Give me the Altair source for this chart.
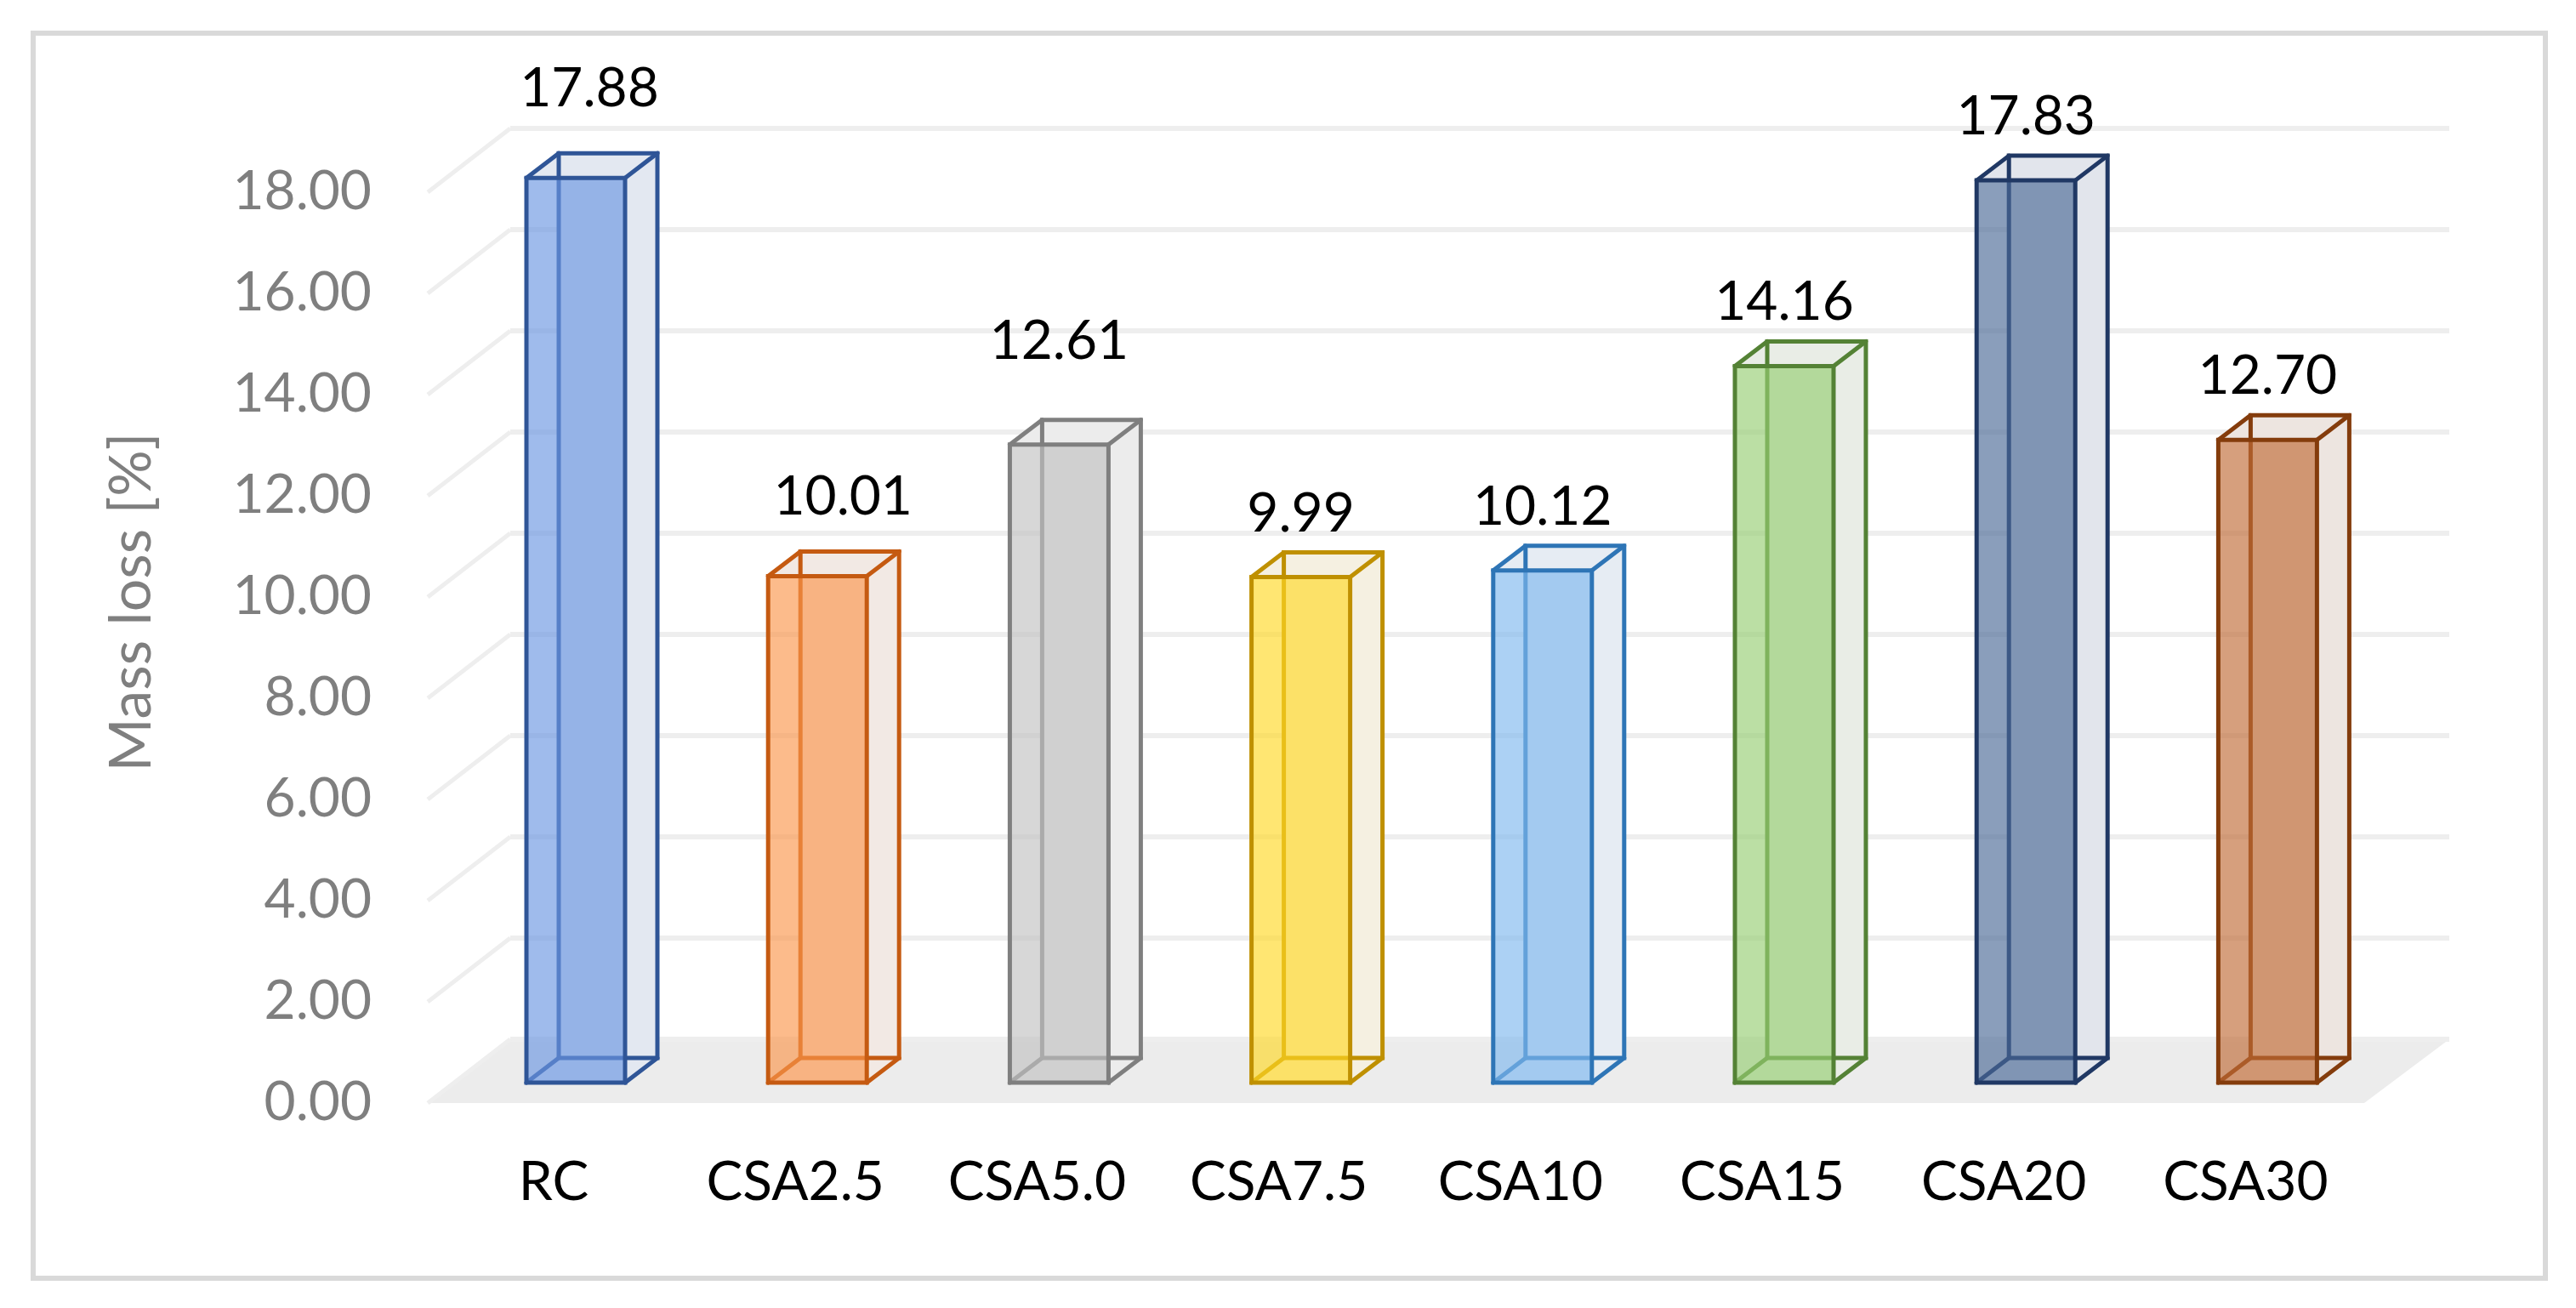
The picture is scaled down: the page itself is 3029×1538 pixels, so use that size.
import altair as alt
import pandas as pd

# ---------------- data ----------------
categories = ["RC", "CSA2.5", "CSA5.0", "CSA7.5", "CSA10", "CSA15", "CSA20", "CSA30"]
mass_loss = [17.88, 10.01, 12.61, 9.99, 10.12, 14.16, 17.83, 12.70]
y_ticks = [0, 2, 4, 6, 8, 10, 12, 14, 16, 18]
y_title = "Mass loss [%]"

# ---------------- styles ----------------
face_colors = ["#95b3e7", "#f8b482", "#d0d0d0", "#fee168", "#a3cbf0", "#b3d99b", "#8095b5", "#d09672"]
edge_colors = ["#2f5597", "#c55a11", "#7f7f7f", "#bf9000", "#2e75b6", "#548235", "#203864", "#843c0c"]
side_colors = ["#e3e8f1", "#f2e9e4", "#ececec", "#f5f0e1", "#e6ecf3", "#e9ede6", "#e2e5ec", "#ede5e0"]
FRONT_ALPHA = 0.65


def hex2rgb(h):
    h = h.lstrip("#")
    return [int(h[i:i + 2], 16) for i in (0, 2, 4)]


def front_fill(target, behind):
    t, b = hex2rgb(target), hex2rgb(behind)
    out = []
    for tc, bc in zip(t, b):
        v = (tc - (1 - FRONT_ALPHA) * bc) / FRONT_ALPHA
        out.append(max(0, min(255, int(round(v)))))
    return "#%02x%02x%02x" % tuple(out)


front_colors = [front_fill(c, s) for c, s in zip(face_colors, side_colors)]

# layout (pixels, plot-area coordinates)
PLOT_W, PLOT_H = 2954, 1464
STEP = 284.2
X0 = 638
BAR_W = 116
HALF = BAR_W / 2
DX, DY = 38, -29          # bar depth
WALL_DY = -51             # back wall offset
FRONT_DY = 24             # front plane offset
WALL_X0, WALL_X1 = 561, 2841
FRONT_X0 = 464
FONT = "Lato"
FS = 64

x_scale = alt.Scale(type="point", domain=categories,
                    range=[X0, X0 + STEP * (len(categories) - 1)], padding=0)
y_scale = alt.Scale(domain=[0, 18], range=[1234, 163], nice=False, zero=False)

df = pd.DataFrame({
    "cat": categories,
    "val": mass_loss,
    "zero": [0] * len(categories),
    "front": front_colors,
    "edge": edge_colors,
    "side": side_colors,
})
ticks_df = pd.DataFrame({"tick": y_ticks})
floor_df = pd.DataFrame({"zero": [0]})
title_df = pd.DataFrame({"title": [y_title]})

X = alt.X("cat:N", scale=x_scale, axis=None, sort=categories)
X2 = alt.X2("cat")

# back wall grid lines
grid = alt.Chart(ticks_df).mark_rule(
    color="#eeeeee", strokeWidth=6, yOffset=WALL_DY
).encode(
    x=alt.value(WALL_X0), x2=alt.value(WALL_X1),
    y=alt.Y("tick:Q", scale=y_scale, axis=None),
)

# side wall diagonal grid lines
diag = alt.Chart(ticks_df).mark_rule(
    color="#eeeeee", strokeWidth=5, yOffset=FRONT_DY, y2Offset=WALL_DY
).encode(
    x=alt.value(FRONT_X0), x2=alt.value(WALL_X0),
    y=alt.Y("tick:Q", scale=y_scale, axis=None), y2=alt.Y2("tick"),
)

# floor
floor_path = "M 0 %d L 2277 %d L 2377 %d L 97 %d Z" % (FRONT_DY, FRONT_DY, WALL_DY, WALL_DY)
floor = alt.Chart(floor_df).mark_point(
    shape=floor_path, size=4, filled=True, opacity=1, strokeWidth=0, color="#ececec"
).encode(
    x=alt.value(FRONT_X0),
    y=alt.Y("zero:Q", scale=y_scale, axis=None),
)

# y tick labels (front plane)
y_labels = alt.Chart(ticks_df).mark_text(
    font=FONT, fontSize=FS, color="#7f7f7f", align="right", baseline="middle", dy=25
).encode(
    x=alt.value(398),
    y=alt.Y("tick:Q", scale=y_scale, axis=None),
    text=alt.Text("tick:Q", format=".2f"),
)

# y title
y_title_mark = alt.Chart(title_df).mark_text(
    font=FONT, fontSize=68, color="#7f7f7f", align="center", baseline="middle", angle=270
).encode(
    x=alt.value(118), y=alt.value(669), text="title:N",
)

# category labels
x_labels = alt.Chart(df).mark_text(
    font=FONT, fontSize=FS, color="#000000", align="center", baseline="middle", dx=-26
).encode(
    x=X, y=alt.value(1353), text="cat:N",
)

# top / bottom faces
face_path = "M %g 0 L %g 0 L %g %g L %g %g Z" % (-HALF, HALF, HALF + DX, DY, -HALF + DX, DY)
top_face = alt.Chart(df).mark_point(
    shape=face_path, size=4, filled=True, opacity=1, strokeWidth=0
).encode(x=X, y=alt.Y("val:Q", scale=y_scale, axis=None),
         fill=alt.Fill("side:N", scale=None))
bottom_face = alt.Chart(df).mark_point(
    shape=face_path, size=4, filled=True, opacity=1, strokeWidth=0
).encode(x=X, y=alt.Y("zero:Q", scale=y_scale, axis=None),
         fill=alt.Fill("side:N", scale=None))

# back face
back = alt.Chart(df).mark_bar(
    width=BAR_W, xOffset=DX, yOffset=DY, y2Offset=DY, strokeWidth=5,
    fillOpacity=1, strokeJoin="miter"
).encode(
    x=X,
    y=alt.Y("val:Q", scale=y_scale, axis=None), y2=alt.Y2("zero"),
    fill=alt.Fill("side:N", scale=None),
    stroke=alt.Stroke("edge:N", scale=None),
)


def connector(field, sx):
    return alt.Chart(df).mark_rule(
        strokeWidth=5, strokeCap="round",
        xOffset=sx, x2Offset=sx + DX, y2Offset=DY
    ).encode(
        x=X, x2=X2,
        y=alt.Y(field + ":Q", scale=y_scale, axis=None), y2=alt.Y2(field),
        color=alt.Color("edge:N", scale=None),
    )


connectors = [connector("val", -HALF), connector("val", HALF),
              connector("zero", -HALF), connector("zero", HALF)]

# front face
front = alt.Chart(df).mark_bar(
    width=BAR_W, strokeWidth=5, fillOpacity=FRONT_ALPHA, strokeJoin="miter"
).encode(
    x=X,
    y=alt.Y("val:Q", scale=y_scale, axis=None),
    y2=alt.Y2("zero"),
    fill=alt.Fill("front:N", scale=None),
    stroke=alt.Stroke("edge:N", scale=None),
)

# value labels (Excel-placed labels: a few were nudged)
label_nudges = {"RC": (16, 84), "CSA2.5": (30, 72), "CSA5.0": (0, 101)}
default_nudge = (0, 54)
groups = {}
for c in categories:
    groups.setdefault(label_nudges.get(c, default_nudge), []).append(c)

labels = []
for (ndx, gap), cats in groups.items():
    labels.append(
        alt.Chart(df).transform_filter(
            alt.FieldOneOfPredicate(field="cat", oneOf=cats)
        ).mark_text(
            font=FONT, fontSize=FS, color="#000000", baseline="alphabetic",
            align="center", dx=ndx, dy=-gap
        ).encode(
            x=X, y=alt.Y("val:Q", scale=y_scale, axis=None),
            text=alt.Text("val:Q", format=".2f"),
        )
    )

chart = alt.layer(
    floor, grid, diag, y_labels, y_title_mark, x_labels,
    top_face, bottom_face, back, *connectors, front, *labels
).properties(
    width=PLOT_W, height=PLOT_H,
    autosize=alt.AutoSizeParams(type="none"),
    padding={"left": 31, "top": 31, "right": 28, "bottom": 27},
    background="#ffffff",
).configure_view(
    stroke="#d9d9d9", strokeWidth=6
)

chart.save("out.html", embed_options={"renderer": "svg", "actions": False})
